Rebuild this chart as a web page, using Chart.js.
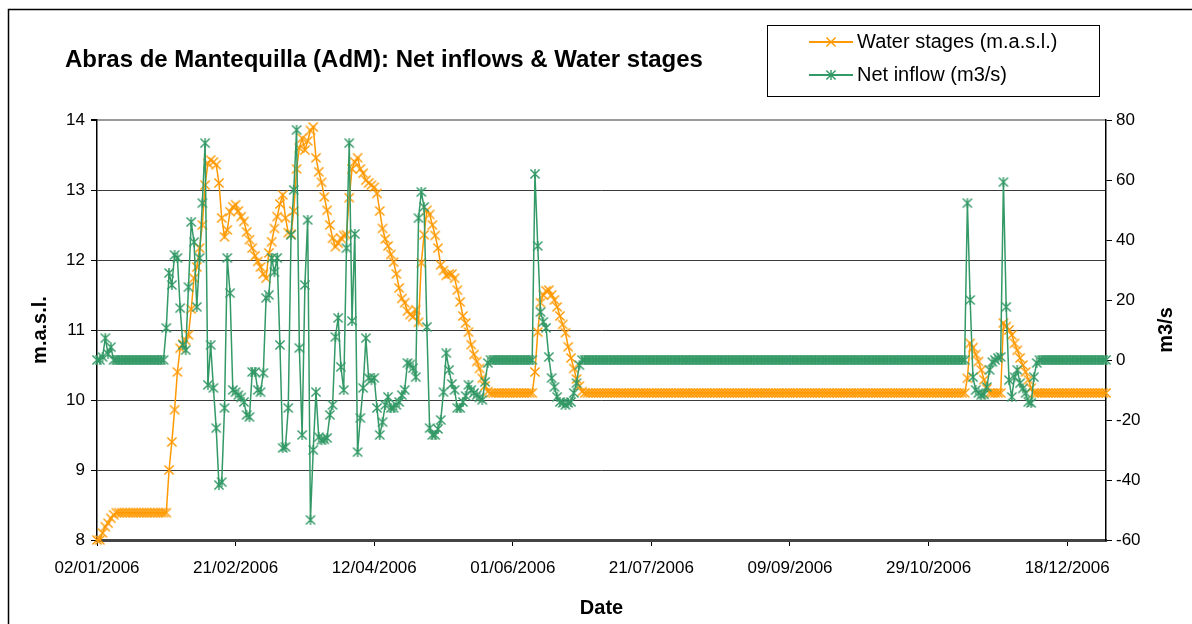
<!DOCTYPE html>
<html>
<head>
<meta charset="utf-8">
<script src="https://cdn.jsdelivr.net/npm/chart.js@4.4.1/dist/chart.umd.min.js"></script>
<style>
html,body{margin:0;padding:0;background:#fff;}
#wrap{width:1192px;height:624px;position:relative;}
</style>
</head>
<body>
<div id="wrap"><canvas id="c" width="1192" height="624"></canvas></div>
<script>
// ---------- DATA ----------
const firstDay = [2006, 0, 2];   // 02/01/2006
const dayCount = 365;
const tickLabels = ['02/01/2006','21/02/2006','12/04/2006','01/06/2006','21/07/2006','09/09/2006','29/10/2006','18/12/2006'];
const yLeftTicks = [8, 9, 10, 11, 12, 13, 14];
const yRightTicks = [-60, -40, -20, 0, 20, 40, 60, 80];
const rightAxisTitle = 'm3/s';

const waterStages = [
8.0,8.0,8.1,8.19,8.24,8.31,8.36,8.39,8.39,8.39,
8.39,8.39,8.39,8.39,8.39,8.39,8.39,8.39,8.39,8.39,
8.39,8.39,8.39,8.39,8.39,8.39,9.0,9.4,9.86,10.4,
10.74,10.8,10.85,10.93,11.3,11.74,11.9,12.17,12.5,13.07,
13.38,13.43,13.4,13.36,13.1,12.6,12.33,12.43,12.69,12.76,
12.79,12.7,12.62,12.55,12.4,12.29,12.17,12.06,11.98,11.9,
11.8,11.74,12.1,12.26,12.45,12.62,12.8,12.93,12.6,12.39,
12.37,12.7,13.3,13.6,13.74,13.57,13.7,13.85,13.9,13.46,
13.26,13.11,12.9,12.71,12.5,12.31,12.19,12.24,12.31,12.35,
12.36,12.89,13.3,13.4,13.46,13.3,13.24,13.14,13.1,13.07,
13.04,12.95,12.7,12.45,12.3,12.2,12.08,11.97,11.8,11.6,
11.45,11.39,11.27,11.22,11.19,11.29,11.11,11.96,12.36,12.71,
12.65,12.5,12.35,12.17,11.93,11.85,11.78,11.8,11.8,11.74,
11.57,11.4,11.2,11.1,10.97,10.79,10.65,10.55,10.45,10.31,
10.2,10.12,10.1,10.1,10.1,10.1,10.1,10.1,10.1,10.1,
10.1,10.1,10.1,10.1,10.1,10.1,10.1,10.1,10.4,10.97,
11.39,11.5,11.56,11.57,11.5,11.43,11.33,11.2,11.08,10.96,
10.76,10.6,10.45,10.3,10.2,10.12,10.1,10.1,10.1,10.1,
10.1,10.1,10.1,10.1,10.1,10.1,10.1,10.1,10.1,10.1,
10.1,10.1,10.1,10.1,10.1,10.1,10.1,10.1,10.1,10.1,
10.1,10.1,10.1,10.1,10.1,10.1,10.1,10.1,10.1,10.1,
10.1,10.1,10.1,10.1,10.1,10.1,10.1,10.1,10.1,10.1,
10.1,10.1,10.1,10.1,10.1,10.1,10.1,10.1,10.1,10.1,
10.1,10.1,10.1,10.1,10.1,10.1,10.1,10.1,10.1,10.1,
10.1,10.1,10.1,10.1,10.1,10.1,10.1,10.1,10.1,10.1,
10.1,10.1,10.1,10.1,10.1,10.1,10.1,10.1,10.1,10.1,
10.1,10.1,10.1,10.1,10.1,10.1,10.1,10.1,10.1,10.1,
10.1,10.1,10.1,10.1,10.1,10.1,10.1,10.1,10.1,10.1,
10.1,10.1,10.1,10.1,10.1,10.1,10.1,10.1,10.1,10.1,
10.1,10.1,10.1,10.1,10.1,10.1,10.1,10.1,10.1,10.1,
10.1,10.1,10.1,10.1,10.1,10.1,10.1,10.1,10.1,10.1,
10.1,10.1,10.1,10.1,10.31,10.81,10.75,10.65,10.55,10.43,
10.29,10.16,10.1,10.1,10.1,10.1,10.1,11.1,11.05,11.0,
10.93,10.81,10.71,10.6,10.5,10.4,10.29,10.17,10.1,10.1,
10.1,10.1,10.1,10.1,10.1,10.1,10.1,10.1,10.1,10.1,
10.1,10.1,10.1,10.1,10.1,10.1,10.1,10.1,10.1,10.1,
10.1,10.1,10.1,10.1,10.1
];

const netInflow = [
0,0,1,7.3,2,4.3,0,0,0,0,
0,0,0,0,0,0,0,0,0,0,
0,0,0,0,0,10.7,29,25,35,34,
17.3,5,3.3,24.3,46,39.3,17.7,34,52.3,72.3,
-8.3,5,-9.3,-22.7,-41.7,-40.7,-16,34,22.3,-10,
-10.7,-11.7,-12.5,-14,-18.3,-19,-4,-4,-10,-10.7,
-4.3,20.7,21.7,34,29.3,34,5,-29.3,-29,-16,
41.7,56.7,76.7,4,-25,25,46.7,-53.3,-30,-10.7,
-25.7,-26.7,-26.5,-26,-18.3,-15,7.7,14,-2.3,-10,
37.3,72.3,13,42,-30.7,-19.3,-9.3,7.3,-6,-6.7,
-6,-16,-25,-20.7,-15,-12.3,-16,-16,-15,-14,
-11.7,-10,-1,-1.5,-2.7,-5.7,47.3,56,51,11,
-22.7,-25,-25,-23,-20,-10.7,2.3,-3.3,-8,-10,
-16,-16,-14,-12,-8.3,-10,-11,-11.7,-12.5,-13.3,
-7.3,-1,0,0,0,0,0,0,0,0,
0,0,0,0,0,0,0,0,62,38,
16,12.7,10.7,1,-6,-9,-12.3,-14,-14.3,-15,
-14.3,-14,-11,-7.7,-1.7,0,0,0,0,0,
0,0,0,0,0,0,0,0,0,0,
0,0,0,0,0,0,0,0,0,0,
0,0,0,0,0,0,0,0,0,0,
0,0,0,0,0,0,0,0,0,0,
0,0,0,0,0,0,0,0,0,0,
0,0,0,0,0,0,0,0,0,0,
0,0,0,0,0,0,0,0,0,0,
0,0,0,0,0,0,0,0,0,0,
0,0,0,0,0,0,0,0,0,0,
0,0,0,0,0,0,0,0,0,0,
0,0,0,0,0,0,0,0,0,0,
0,0,0,0,0,0,0,0,0,0,
0,0,0,0,0,0,0,0,0,0,
0,0,0,0,52.3,20,-5.7,-10,-11,-11.7,
-11.5,-9,-3.3,-0.7,0,0.7,1,59.3,17.7,-6.7,
-12.3,-5.7,-3.3,-7.7,-9.5,-11,-14,-14.3,-5.7,-1,
0,0,0,0,0,0,0,0,0,0,
0,0,0,0,0,0,0,0,0,0,
0,0,0,0,0
];

// ---------- CATEGORIES (dates) ----------
const dateLabels = [];
for (let i = 0; i < dayCount; i++) {
  const d = new Date(Date.UTC(firstDay[0], firstDay[1], firstDay[2] + i));
  const dd = String(d.getUTCDate()).padStart(2, '0');
  const mm = String(d.getUTCMonth() + 1).padStart(2, '0');
  dateLabels.push(dd + '/' + mm + '/' + d.getUTCFullYear());
}

// ---------- STYLE ----------
const ORANGE = '#FF9900';
const GREEN = '#339966';
const FONT = "'Liberation Sans', Arial, sans-serif";

function strokeMarker(g, cx, cy, star, color) {
  g.strokeStyle = color; g.lineWidth = 1.4;
  const h = 4.6;
  g.beginPath();
  g.moveTo(cx - h, cy - h); g.lineTo(cx + h, cy + h);
  g.moveTo(cx + h, cy - h); g.lineTo(cx - h, cy + h);
  if (star) { g.moveTo(cx, cy - h - 0.5); g.lineTo(cx, cy + h + 0.5); }
  g.stroke();
}
function markerCanvas(color, star) {
  const c = document.createElement('canvas'); c.width = 12; c.height = 12;
  strokeMarker(c.getContext('2d'), 6, 6, star, color);
  return c;
}
function legendIcon(color, star) {
  const c = document.createElement('canvas'); c.width = 44; c.height = 14;
  const g = c.getContext('2d');
  g.strokeStyle = color; g.lineWidth = 2;
  g.beginPath(); g.moveTo(0, 7); g.lineTo(44, 7); g.stroke();
  strokeMarker(g, 22, 7, star, color);
  return c;
}
const orangeMarker = markerCanvas(ORANGE, false);
const greenMarker = markerCanvas(GREEN, true);
const orangeIcon = legendIcon(ORANGE, false);
const greenIcon = legendIcon(GREEN, true);

const tweakPlugin = {
  id: 'tweaks',
  beforeDraw(chart) {
    const ctx = chart.ctx;
    ctx.save();
    ctx.fillStyle = '#fff';
    ctx.fillRect(0, 0, chart.width, chart.height);
    ctx.strokeStyle = '#000';
    ctx.lineWidth = 1.5;
    ctx.strokeRect(8.5, 9.5, 1400, 900);
    ctx.lineWidth = 1;
    ctx.strokeRect(767.5, 25.5, 332, 71);
    ctx.restore();
    const lg = chart.legend;
    lg.left = 802; lg.right = 1095; lg.top = 19; lg.bottom = 100;
    lg.width = lg.right - lg.left; lg.height = lg.bottom - lg.top;
    const tb = chart.titleBlock;
    tb.left = 65;
  },
  afterDraw(chart) {
    // secondary axis title, rotated bottom-to-top like the primary one
    const ctx = chart.ctx;
    const s = chart.scales.yR;
    ctx.save();
    ctx.translate(1166, (s.top + s.bottom) / 2);
    ctx.rotate(-Math.PI / 2);
    ctx.fillStyle = '#000';
    ctx.font = 'bold 20px ' + FONT;
    ctx.textAlign = 'center';
    ctx.textBaseline = 'middle';
    ctx.fillText(rightAxisTitle, 0, 0);
    ctx.restore();
  }
};

new Chart(document.getElementById('c'), {
  type: 'line',
  data: {
    labels: dateLabels,
    datasets: [
      {
        label: 'Water stages (m.a.s.l.)',
        data: waterStages,
        yAxisID: 'yL',
        borderColor: ORANGE,
        backgroundColor: ORANGE,
        borderWidth: 1.5,
        pointStyle: orangeMarker,
        pointRadius: 5,
        tension: 0,
        clip: false,
        order: 1
      },
      {
        label: 'Net inflow (m3/s)',
        data: netInflow,
        yAxisID: 'yR',
        borderColor: GREEN,
        backgroundColor: GREEN,
        borderWidth: 1.5,
        pointStyle: greenMarker,
        pointRadius: 5,
        tension: 0,
        clip: false,
        order: 0
      }
    ]
  },
  options: {
    responsive: false,
    devicePixelRatio: 1,
    animation: false,
    layout: { padding: { left: 20, right: 8, top: 0, bottom: 0 } },
    plugins: {
      tooltip: { enabled: false },
      title: {
        display: true,
        text: 'Abras de Mantequilla (AdM): Net inflows & Water stages',
        align: 'start',
        color: '#000',
        font: { family: FONT, size: 24, weight: 'bold' },
        padding: { top: 46, bottom: 2.2 }
      },
      legend: {
        display: true,
        position: 'top',
        align: 'start',
        labels: {
          color: '#000',
          font: { family: FONT, size: 20 },
          padding: 13,
          usePointStyle: true,
          pointStyleWidth: 32,
          generateLabels: () => [
            { text: 'Water stages (m.a.s.l.)', pointStyle: orangeIcon, fillStyle: ORANGE, strokeStyle: ORANGE, lineWidth: 0, hidden: false, datasetIndex: 0, fontColor: '#000' },
            { text: 'Net inflow (m3/s)', pointStyle: greenIcon, fillStyle: GREEN, strokeStyle: GREEN, lineWidth: 0, hidden: false, datasetIndex: 1, fontColor: '#000' }
          ]
        }
      }
    },
    scales: {
      x: {
        type: 'category',
        offset: false,
        afterFit: (s) => { s.height = 84; },
        afterBuildTicks: (s) => { s.ticks = s.ticks.filter(t => tickLabels.includes(dateLabels[t.value])); },
        ticks: { autoSkip: false, maxRotation: 0, minRotation: 0, color: '#000', font: { family: FONT, size: 17 }, padding: 12 },
        grid: { drawOnChartArea: false, drawTicks: true, tickLength: 6, tickColor: '#000', color: '#000' },
        border: { display: true, color: '#444', width: 3 },
        title: { display: true, text: 'Date', color: '#000', font: { family: FONT, size: 20, weight: 'bold' }, padding: { top: 0, bottom: 4 } }
      },
      yL: {
        type: 'linear',
        position: 'left',
        min: 8, max: 14,
        afterFit: (s) => { s.width = 77; },
        afterBuildTicks: (s) => { s.ticks = yLeftTicks.map(v => ({ value: v })); },
        ticks: { color: '#000', font: { family: FONT, size: 17 }, padding: 6 },
        grid: {
          drawOnChartArea: true, drawTicks: true, tickLength: 6, tickColor: '#000',
          color: (c) => (c.tick && c.tick.value === 14) ? '#9a9a9a' : '#3a3a3a',
          lineWidth: (c) => (c.tick && c.tick.value === 14) ? 2 : 1
        },
        border: { display: true, color: '#000', width: 1.5 },
        title: { display: true, text: 'm.a.s.l.', color: '#000', font: { family: FONT, size: 20, weight: 'bold' }, padding: { top: 8, bottom: 0 } }
      },
      yR: {
        type: 'linear',
        position: 'right',
        min: -60, max: 80,
        afterFit: (s) => { s.width = 78; },
        afterBuildTicks: (s) => { s.ticks = yRightTicks.map(v => ({ value: v })); },
        ticks: { color: '#000', font: { family: FONT, size: 17 }, padding: 4 },
        grid: { drawOnChartArea: false, drawTicks: true, tickLength: 6, tickColor: '#000', color: '#000' },
        border: { display: true, color: '#000', width: 1.5 },
        title: { display: false, text: 'm3/s' }
      }
    }
  },
  plugins: [tweakPlugin]
});
</script>
</body>
</html>
